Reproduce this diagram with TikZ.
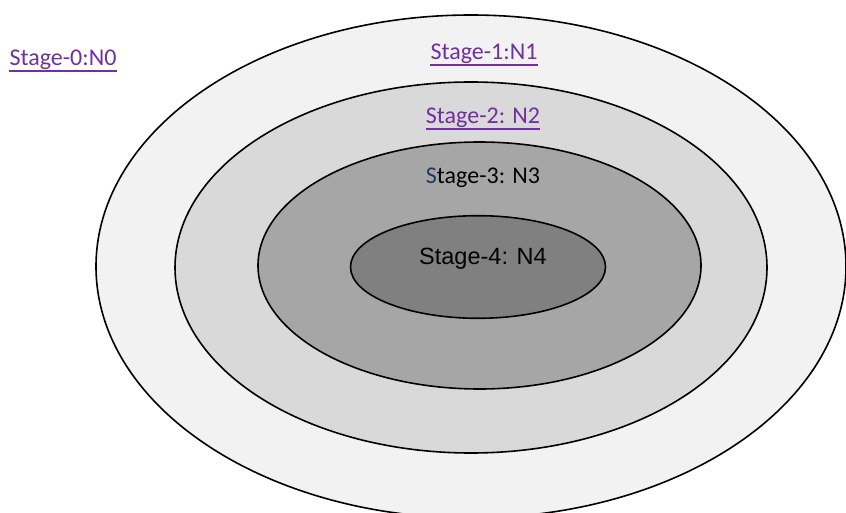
\documentclass[tikz,border=0pt]{standalone}
\usepackage{fontspec}
\usetikzlibrary{shapes.geometric}
\newfontfamily\calibrifont{Carlito}
\newfontfamily\arialfont{Liberation Sans}
\definecolor{linkpurple}{RGB}{112,48,160}
\definecolor{navyS}{RGB}{31,56,100}
\definecolor{ringA}{RGB}{242,242,242}
\definecolor{ringB}{RGB}{217,217,217}
\definecolor{ringC}{RGB}{166,166,166}
\definecolor{ringD}{RGB}{128,128,128}
\tikzset{
  ring/.style={ellipse, draw=black, line width=1.6pt, inner sep=0pt, outer sep=0pt},
  linklabel/.style={font=\calibrifont\fontsize{24}{28}\selectfont, text=linkpurple, inner sep=0pt, anchor=base},
  plainlabel/.style={font=\calibrifont\fontsize{24}{28}\selectfont, text=black, inner sep=0pt, anchor=base},
  uline/.style={draw=linkpurple, line width=2pt}
}
\begin{document}
\begin{tikzpicture}[x=1pt,y=-1pt]
\useasboundingbox (0,0) rectangle (846,513);
\begin{scope}
\clip (0,0) rectangle (846,513);
\node[ring, fill=ringA, minimum width=750pt, minimum height=503pt] (n1) at (471,266.5) {};
\node[ring, fill=ringB, minimum width=592pt, minimum height=371pt] (n2) at (471,267.5) {};
\node[ring, fill=ringC, minimum width=443pt, minimum height=247pt] (n3) at (479.5,265.5) {};
\node[ring, fill=ringD, minimum width=255pt, minimum height=102.6pt] (n4) at (478,267) {};
\end{scope}
\node[linklabel] (t0) at (63,66) {Stage-0:N0};
\node[linklabel] (t1) at (484,60) {Stage-1:N1};
\node[linklabel] (t2) at (483,123.3) {Stage-2: N2};
\node[plainlabel] (t3) at (483,183.3) {{\color{navyS}S}tage-3: N3};
\node[plainlabel, font=\arialfont\fontsize{23.5}{27}\selectfont] (t4) at (483,264) {Stage-4: N4};
\draw[uline] ([yshift=-5.3pt]t0.base west) -- ([yshift=-5.3pt]t0.base east);
\draw[uline] ([yshift=-5.3pt]t1.base west) -- ([yshift=-5.3pt]t1.base east);
\draw[uline] ([yshift=-5.3pt]t2.base west) -- ([yshift=-5.3pt]t2.base east);
\end{tikzpicture}
\end{document}
